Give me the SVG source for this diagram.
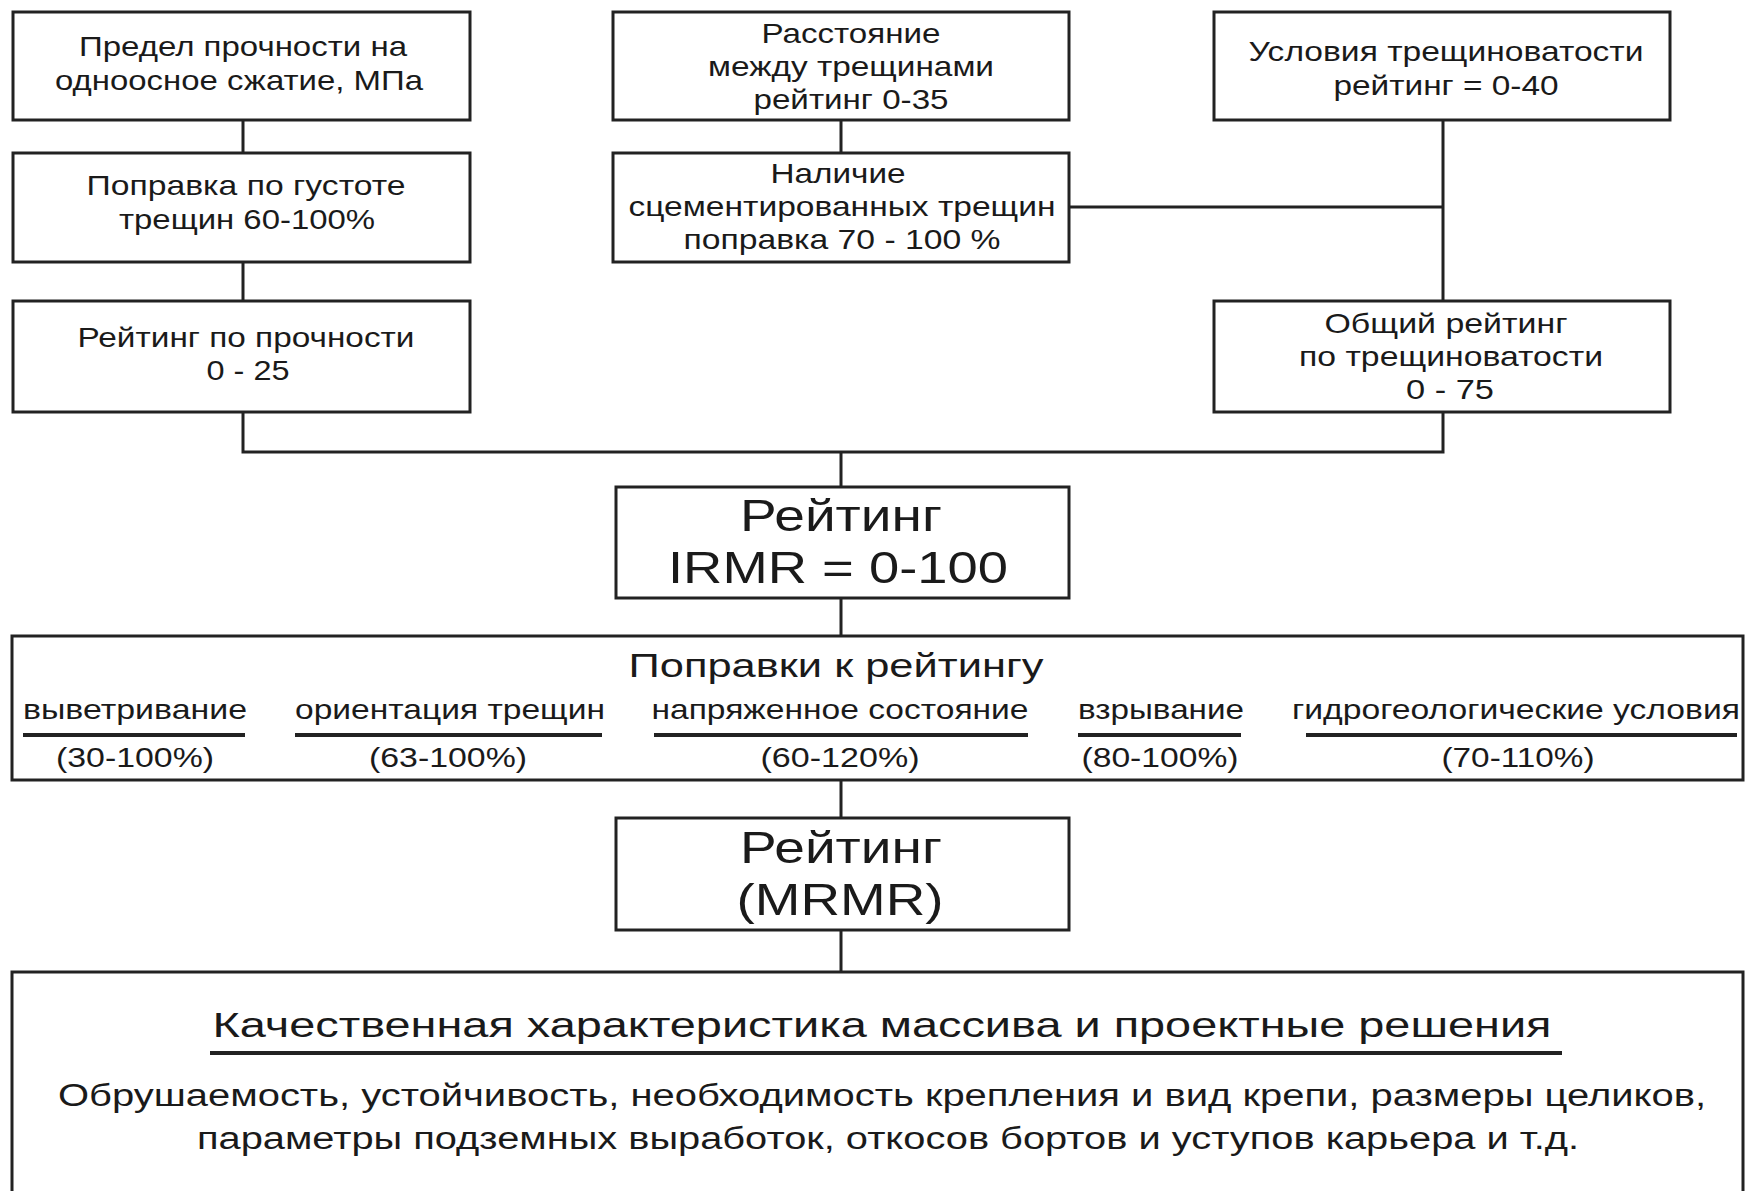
<svg xmlns="http://www.w3.org/2000/svg" width="1746" height="1191" viewBox="0 0 1746 1191">
<style>
.box{fill:#fff;stroke:#222;stroke-width:3}
.ln{fill:none;stroke:#222;stroke-width:3}
.ul{fill:none;stroke:#222;stroke-width:4}
text{font-family:"Liberation Sans",Arial,sans-serif;fill:#1a1a1a;text-anchor:middle}
.s{font-size:28px}
.b{font-size:45px}
.m{font-size:33px}
.t{font-size:35px}
.p{font-size:31px}
</style>
<rect width="1746" height="1191" fill="#fff"/>
<g id="connectors">
<path class="ln" d="M243 120V153M243 262V301M841 120V153M1443 120V301M1069 207H1443M243 412V452H1443V412M841 452V487M841 598V636M841 780V818M841 930V972"/>
</g>
<g id="n1">
<rect class="box" x="13" y="12" width="457" height="108"/>
<text class="s" x="243" y="56" textLength="328" lengthAdjust="spacingAndGlyphs">Предел прочности на</text>
<text class="s" x="239" y="90" textLength="368" lengthAdjust="spacingAndGlyphs">одноосное сжатие, МПа</text>
</g>
<g id="n2">
<rect class="box" x="13" y="153" width="457" height="109"/>
<text class="s" x="246" y="195" textLength="319" lengthAdjust="spacingAndGlyphs">Поправка по густоте</text>
<text class="s" x="247" y="229" textLength="256" lengthAdjust="spacingAndGlyphs">трещин 60-100%</text>
</g>
<g id="n3">
<rect class="box" x="13" y="301" width="457" height="111"/>
<text class="s" x="246" y="347" textLength="337" lengthAdjust="spacingAndGlyphs">Рейтинг по прочности</text>
<text class="s" x="248" y="380" textLength="83" lengthAdjust="spacingAndGlyphs">0 - 25</text>
</g>
<g id="n4">
<rect class="box" x="613" y="12" width="456" height="108"/>
<text class="s" x="851" y="43" textLength="179" lengthAdjust="spacingAndGlyphs">Расстояние</text>
<text class="s" x="851" y="76" textLength="286" lengthAdjust="spacingAndGlyphs">между трещинами</text>
<text class="s" x="851" y="109" textLength="195" lengthAdjust="spacingAndGlyphs">рейтинг 0-35</text>
</g>
<g id="n5">
<rect class="box" x="613" y="153" width="456" height="109"/>
<text class="s" x="838" y="183" textLength="135" lengthAdjust="spacingAndGlyphs">Наличие</text>
<text class="s" x="842" y="216" textLength="427" lengthAdjust="spacingAndGlyphs">сцементированных трещин</text>
<text class="s" x="842" y="249" textLength="317" lengthAdjust="spacingAndGlyphs">поправка 70 - 100 %</text>
</g>
<g id="n6">
<rect class="box" x="1214" y="12" width="456" height="108"/>
<text class="s" x="1446" y="61" textLength="395" lengthAdjust="spacingAndGlyphs">Условия трещиноватости</text>
<text class="s" x="1446" y="95" textLength="225" lengthAdjust="spacingAndGlyphs">рейтинг = 0-40</text>
</g>
<g id="n7">
<rect class="box" x="1214" y="301" width="456" height="111"/>
<text class="s" x="1446" y="333" textLength="243" lengthAdjust="spacingAndGlyphs">Общий рейтинг</text>
<text class="s" x="1451" y="366" textLength="304" lengthAdjust="spacingAndGlyphs">по трещиноватости</text>
<text class="s" x="1450" y="399" textLength="88" lengthAdjust="spacingAndGlyphs">0 - 75</text>
</g>
<g id="irmr">
<rect class="box" x="616" y="487" width="453" height="111"/>
<text class="b" x="841" y="531" textLength="202" lengthAdjust="spacingAndGlyphs">Рейтинг</text>
<text class="b" x="838" y="583" textLength="340" lengthAdjust="spacingAndGlyphs">IRMR = 0-100</text>
</g>
<g id="corrections">
<rect class="box" x="12" y="636" width="1731" height="144"/>
<text class="m" x="836" y="677" textLength="415" lengthAdjust="spacingAndGlyphs">Поправки к рейтингу</text>
<text class="s" x="135" y="719" textLength="224" lengthAdjust="spacingAndGlyphs">выветривание</text>
<text class="s" x="450" y="719" textLength="310" lengthAdjust="spacingAndGlyphs">ориентация трещин</text>
<text class="s" x="840" y="719" textLength="377" lengthAdjust="spacingAndGlyphs">напряженное состояние</text>
<text class="s" x="1161" y="719" textLength="166" lengthAdjust="spacingAndGlyphs">взрывание</text>
<text class="s" x="1516" y="719" textLength="448" lengthAdjust="spacingAndGlyphs">гидрогеологические условия</text>
<path class="ul" d="M23 735H245M295 735H602M654 735H1028M1078 735H1241M1306 735H1737"/>
<text class="s" x="135" y="767" textLength="158" lengthAdjust="spacingAndGlyphs">(30-100%)</text>
<text class="s" x="448" y="767" textLength="158" lengthAdjust="spacingAndGlyphs">(63-100%)</text>
<text class="s" x="840" y="767" textLength="159" lengthAdjust="spacingAndGlyphs">(60-120%)</text>
<text class="s" x="1160" y="767" textLength="157" lengthAdjust="spacingAndGlyphs">(80-100%)</text>
<text class="s" x="1518" y="767" textLength="153" lengthAdjust="spacingAndGlyphs">(70-110%)</text>
</g>
<g id="mrmr">
<rect class="box" x="616" y="818" width="453" height="112"/>
<text class="b" x="841" y="863" textLength="202" lengthAdjust="spacingAndGlyphs">Рейтинг</text>
<text class="b" x="840" y="915" textLength="207" lengthAdjust="spacingAndGlyphs">(MRMR)</text>
</g>
<g id="result">
<rect class="box" x="12" y="972" width="1731" height="240"/>
<text class="t" x="882" y="1037" textLength="1339" lengthAdjust="spacingAndGlyphs">Качественная характеристика массива и проектные решения</text>
<path class="ul" d="M210 1053H1562"/>
<text class="p" x="882" y="1106" textLength="1648" lengthAdjust="spacingAndGlyphs">Обрушаемость, устойчивость, необходимость крепления и вид крепи, размеры целиков,</text>
<text class="p" x="888" y="1149" textLength="1382" lengthAdjust="spacingAndGlyphs">параметры подземных выработок, откосов бортов и уступов карьера и т.д.</text>
</g>
</svg>
